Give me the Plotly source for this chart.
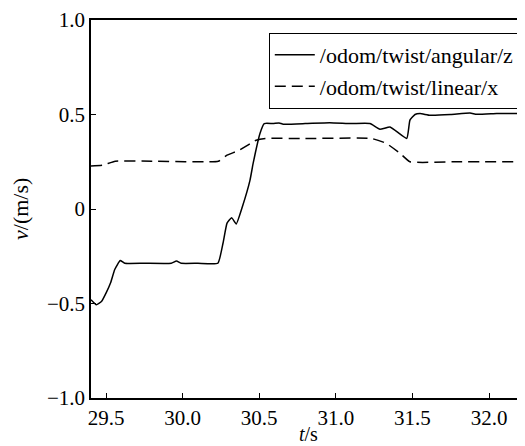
import plotly.graph_objects as go

# angular/z series
t_ang = [29.402, 29.437, 29.47, 29.50, 29.53, 29.557, 29.593, 29.622, 29.75, 29.926,
         29.96, 29.99, 30.10, 30.23, 30.264, 30.29, 30.32, 30.35, 30.39, 30.44,
         30.46, 30.505, 30.533, 30.59, 30.63, 30.657, 30.80, 30.96, 31.10, 31.223,
         31.288, 31.354, 31.463, 31.484, 31.517, 31.55, 31.615, 31.75, 31.876, 31.92,
         32.05, 32.22, 32.24]
v_ang = [-0.48, -0.507, -0.49, -0.445, -0.39, -0.32, -0.273, -0.287, -0.287, -0.287,
         -0.275, -0.287, -0.287, -0.287, -0.18, -0.075, -0.046, -0.079, 0.012, 0.153,
         0.24, 0.40, 0.452, 0.452, 0.455, 0.449, 0.452, 0.457, 0.452, 0.452,
         0.422, 0.434, 0.373, 0.47, 0.50, 0.505, 0.496, 0.50, 0.508, 0.501,
         0.505, 0.508, 0.525]

# linear/x series
t_lin = [29.402, 29.48, 29.56, 29.80, 30.233, 30.29, 30.37, 30.48, 30.54, 30.80,
         31.234, 31.33, 31.42, 31.484, 31.80, 32.24]
v_lin = [0.227, 0.232, 0.253, 0.253, 0.253, 0.285, 0.311, 0.364, 0.373, 0.373,
         0.373, 0.347, 0.294, 0.25, 0.25, 0.25]

series_names = ["/odom/twist/angular/z", "/odom/twist/linear/x"]

x_tickvals = [29.5, 30.0, 30.5, 31.0, 31.5, 32.0]
x_ticktext = ["29.5", "30.0", "30.5", "31.0", "31.5", "32.0"]
y_tickvals = [-1.0, -0.5, 0, 0.5, 1.0]
y_ticktext = ["\u22121.0", "\u22120.5", "0", "0.5", "1.0"]

FONT = "Liberation Serif"

fig = go.Figure()
fig.add_trace(go.Scatter(x=t_ang, y=v_ang, mode="lines", name=series_names[0],
                         line=dict(color="black", width=1.5, shape="spline", smoothing=0.4)))
fig.add_trace(go.Scatter(x=t_lin, y=v_lin, mode="lines", name=series_names[1],
                         line=dict(color="black", width=1.5, dash="11px,6px",
                                   shape="spline", smoothing=0.4)))

fig.update_layout(
    width=525, height=446,
    margin=dict(l=83, r=8, t=12, b=56),
    paper_bgcolor="white", plot_bgcolor="white",
    font=dict(family=FONT, size=20, color="black"),
    showlegend=True,
    legend=dict(x=0.988, y=0.966, xanchor="right", yanchor="top",
                bordercolor="black", borderwidth=1, bgcolor="white",
                font=dict(family=FONT, size=22, color="black"),
                tracegroupgap=0, itemwidth=40),
    xaxis=dict(range=[29.402, 32.235], tickvals=x_tickvals, ticktext=x_ticktext,
               ticks="inside", ticklen=5, tickwidth=1, tickcolor="black",
               showline=True, linecolor="black", linewidth=1.5, mirror=True,
               showgrid=False, zeroline=False, automargin=False,
               tickfont=dict(family=FONT, size=21)),
    yaxis=dict(range=[-1.0, 1.0], tickvals=y_tickvals, ticktext=y_ticktext,
               ticks="inside", ticklen=5, tickwidth=1, tickcolor="black",
               showline=True, linecolor="black", linewidth=1.5,
               showgrid=False, zeroline=False, automargin=False,
               tickfont=dict(family=FONT, size=21)),
    annotations=[
        dict(text="<i>t</i>/s", x=0.5, y=0.0, xref="paper", yref="paper",
             xanchor="center", yanchor="top", yshift=-23, showarrow=False,
             font=dict(family=FONT, size=20)),
        dict(text="<i>v</i>/(m/s)", x=0, y=0.5, xref="paper", yref="paper",
             xanchor="center", yanchor="middle", xshift=-71, textangle=-90,
             showarrow=False, font=dict(family=FONT, size=22)),
    ],
)

fig.write_html("out.html")
